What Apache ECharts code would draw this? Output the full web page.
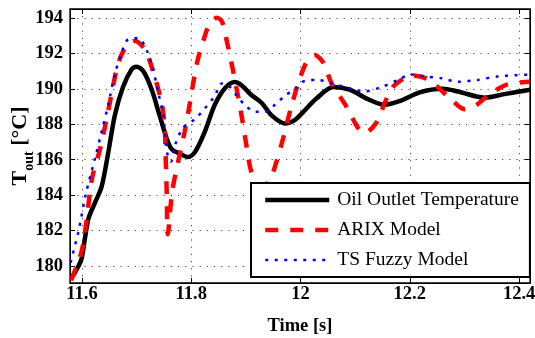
<html>
<head>
    <meta charset="utf-8">
    <title>Oil outlet temperature</title>
    <script src="https://cdn.jsdelivr.net/npm/echarts@6/dist/echarts.min.js"></script>
</head>
<body style="margin:0;background:#fff;">
<div id="main" style="width: 535px;height:338px;"></div>
<script>
    // values: [time s, temperature °C]
    var oilTemp = [
        [11.582,179.4],[11.590,179.8],[11.599,180.4],[11.605,181.5],[11.612,182.7],[11.624,183.6],
        [11.636,184.5],[11.648,186.4],[11.660,188.5],[11.675,190.1],[11.691,191.1],[11.700,191.25],
        [11.712,191.0],[11.727,190.0],[11.742,188.5],[11.755,187.2],[11.764,186.6],[11.779,186.35],
        [11.794,186.15],[11.807,186.45],[11.825,187.6],[11.843,189.1],[11.862,190.05],[11.880,190.38],
        [11.892,190.2],[11.910,189.65],[11.929,189.2],[11.947,188.5],[11.971,188.05],[11.990,188.25],
        [12.005,188.7],[12.029,189.45],[12.060,190.1],[12.090,189.95],[12.121,189.45],[12.154,189.1],
        [12.181,189.3],[12.218,189.8],[12.260,190.0],[12.288,189.85],[12.337,189.5],[12.373,189.7],
        [12.420,189.95]
    ];
    var arixModel = [
        [11.580,179.2],[11.599,180.8],[11.608,182.5],[11.618,184.9],[11.633,186.6],[11.645,188.3],
        [11.654,189.7],[11.666,191.4],[11.681,192.4],[11.697,192.7],[11.715,192.2],[11.730,191.0],
        [11.745,189.3],[11.751,188.0],[11.753,186.3],[11.755,184.2],[11.757,181.8],[11.765,184.2],
        [11.776,185.9],[11.788,187.6],[11.797,189.1],[11.810,191.4],[11.822,192.7],[11.834,193.7],
        [11.847,194.0],[11.856,193.8],[11.865,192.7],[11.874,191.4],[11.883,190.0],[11.892,188.5],
        [11.901,186.8],[11.910,185.3],[11.923,184.6],[11.941,184.7],[11.956,185.9],[11.968,187.2],
        [11.984,189.1],[11.999,190.6],[12.011,191.5],[12.026,191.9],[12.041,191.5],[12.057,190.3],
        [12.084,189.0],[12.105,187.8],[12.117,187.5],[12.139,188.1],[12.154,189.2],[12.169,190.1],
        [12.190,190.6],[12.205,190.75],[12.233,190.55],[12.251,190.1],[12.276,189.4],[12.300,188.85],
        [12.318,189.0],[12.349,189.75],[12.379,190.25],[12.420,190.4]
    ];
    var tsFuzzy = [
        [11.579,180.2],[11.593,181.9],[11.608,184.2],[11.624,186.1],[11.636,187.6],[11.648,189.1],
        [11.660,190.8],[11.672,192.0],[11.685,192.8],[11.703,192.85],[11.718,192.2],[11.730,191.1],
        [11.739,189.85],[11.749,188.5],[11.753,187.0],[11.758,186.1],[11.763,185.9],[11.770,186.8],
        [11.785,187.8],[11.807,188.3],[11.825,188.9],[11.843,189.6],[11.856,190.3],[11.868,190.2],
        [11.886,189.5],[11.901,189.0],[11.917,188.7],[11.935,188.7],[11.953,189.1],[11.971,189.6],
        [11.990,190.0],[12.008,190.45],[12.032,190.5],[12.057,190.3],[12.087,190.05],[12.117,189.85],
        [12.148,190.1],[12.178,190.5],[12.203,190.8],[12.227,190.7],[12.258,190.6],[12.288,190.4],
        [12.324,190.5],[12.361,190.7],[12.420,190.8]
    ];
    var xTicks = [11.6, 11.8, 12, 12.2, 12.4];
    var yTicks = [180, 182, 184, 186, 188, 190, 192, 194];
    var seriesNames = ['Oil Outlet Temperature', 'ARIX Model', 'TS Fuzzy Model'];

    var serif = 'Liberation Serif';
    var gridDots = {show: true, lineStyle: {color: '#444', width: 1, type: [1.2, 6]}};

    var myChart = echarts.init(document.getElementById('main'));
    myChart.setOption({
        animation: false,
        grid: {left: 70, top: 9, right: 5, bottom: 55, outerBoundsMode: 'none',
            show: true, borderColor: '#000', borderWidth: 1.3},
        legend: {
            orient: 'vertical',
            left: 251, top: 183,
            padding: [7, 11, 7, 12],
            itemWidth: 64, itemHeight: 20, itemGap: 10,
            backgroundColor: '#fff',
            borderColor: '#000', borderWidth: 2,
            itemStyle: {opacity: 0},
            textStyle: {fontFamily: serif, fontSize: 19.5, color: '#000', padding: [0, 0, 0, 3]},
            data: [
                {name: seriesNames[0], lineStyle: {width: 4.5}},
                {name: seriesNames[1], lineStyle: {width: 4.5}},
                {name: seriesNames[2], lineStyle: {width: 2.5}}
            ]
        },
        xAxis: [{
            type: 'value', min: 11.578, max: 12.42,
            name: 'Time [s]', nameLocation: 'middle', nameGap: 34,
            nameTextStyle: {fontFamily: serif, fontSize: 18.5, fontWeight: 'bold', color: '#000'},
            axisLine: {show: true, lineStyle: {color: '#000'}},
            axisTick: {inside: true, length: 5, customValues: xTicks, lineStyle: {color: '#000'}},
            axisLabel: {customValues: xTicks, margin: 2, fontFamily: serif, fontSize: 18.5, fontWeight: 'bold', color: '#000'},
            splitLine: gridDots
        }, {
            type: 'value', position: 'top', min: 11.578, max: 12.42,
            axisLine: {show: true, lineStyle: {color: '#000'}},
            axisTick: {inside: true, length: 5, customValues: xTicks, lineStyle: {color: '#000'}},
            axisLabel: {show: false}, splitLine: {show: false}
        }],
        yAxis: [{
            type: 'value', min: 179.05, max: 194.5,
            name: '{m|T}{s|out}{m| [°C]}', nameLocation: 'middle', nameGap: 36.5,
            nameMoveOverlap: false,
            nameTextStyle: {
                rich: {
                    m: {fontFamily: serif, fontSize: 22, fontWeight: 'bold', color: '#000', lineHeight: 24, verticalAlign: 'top'},
                    s: {fontFamily: serif, fontSize: 14, fontWeight: 'bold', color: '#000', lineHeight: 14, verticalAlign: 'top', padding: [12.5, 0, 0, 0]}
                }
            },
            axisLine: {show: true, lineStyle: {color: '#000'}},
            axisTick: {inside: true, length: 5, customValues: yTicks, lineStyle: {color: '#000'}},
            axisLabel: {customValues: yTicks, margin: 7, fontFamily: serif, fontSize: 18.5, fontWeight: 'bold', color: '#000'},
            splitLine: gridDots
        }, {
            type: 'value', position: 'right', min: 179.05, max: 194.5,
            axisLine: {show: true, lineStyle: {color: '#000'}},
            axisTick: {inside: true, length: 5, customValues: yTicks, lineStyle: {color: '#000'}},
            axisLabel: {show: false}, splitLine: {show: false}
        }],
        series: [{
            name: seriesNames[0], type: 'line', data: oilTemp, symbol: 'none', smooth: 0.3,
            itemStyle: {color: '#000'},
            lineStyle: {color: '#000', width: 4.5}
        }, {
            name: seriesNames[1], type: 'line', data: arixModel, symbol: 'none', smooth: 0.3,
            itemStyle: {color: '#ff0000'},
            lineStyle: {color: '#ff0000', width: 4.5, type: [13, 12]}
        }, {
            name: seriesNames[2], type: 'line', data: tsFuzzy, symbol: 'none', smooth: 0.3,
            itemStyle: {color: '#0000ff'},
            lineStyle: {color: '#0000ff', width: 2.5, type: [3, 6.5]}
        }]
    });
</script>
</body>
</html>
